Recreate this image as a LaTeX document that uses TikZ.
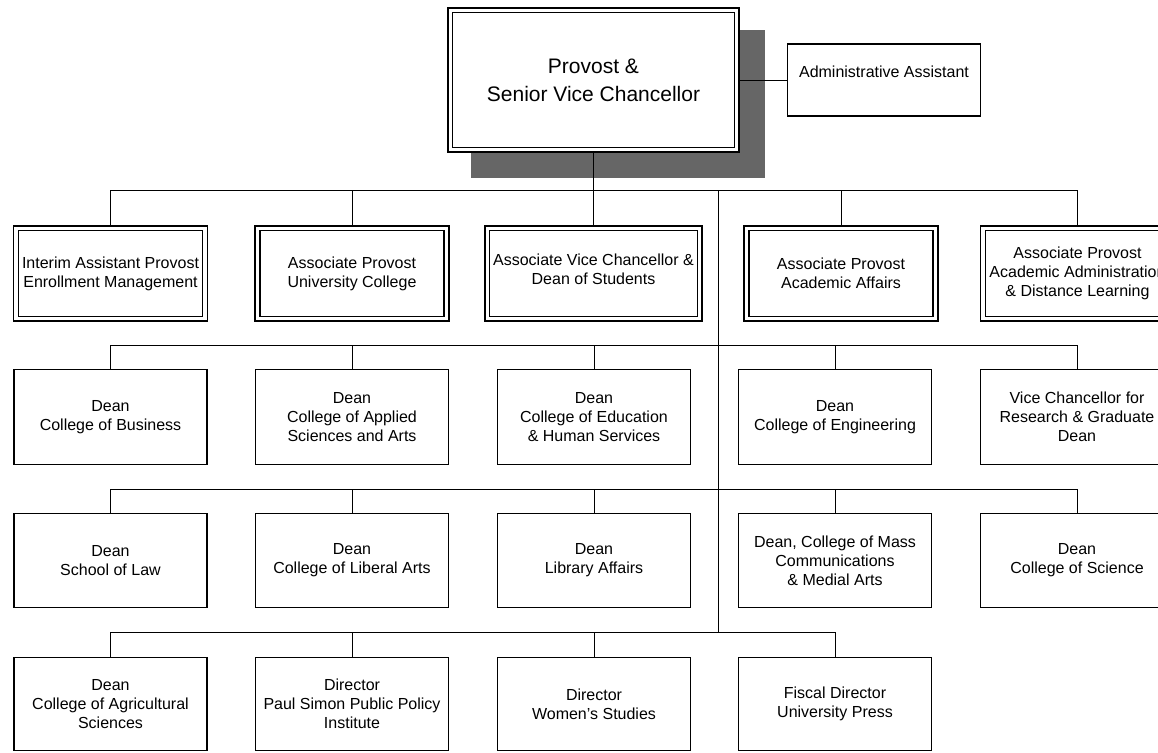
\documentclass[tikz,border=0pt]{standalone}
\usepackage{fontspec}
\setmainfont{Liberation Sans}
\usetikzlibrary{calc,backgrounds}

\begin{document}
\begin{tikzpicture}[x=1pt,y=-1pt,
  link/.style={line width=0.8pt},
  unitbox/.style={draw,line width=1.6pt,fill=white,align=center,inner sep=2pt,
    minimum width=193pt,font=\fontsize{16}{19}\selectfont},
  leadbox/.style={unitbox,double,line width=1.5pt,double distance=3.2pt,
    minimum width=189pt,minimum height=90.5pt}]
\useasboundingbox (0,0) rectangle (1158,752);
\clip (0,0) rectangle (1158,752);

% Provost and assistant
\node[leadbox,minimum width=286.5pt,minimum height=139.5pt,font=\fontsize{21}{28}\selectfont]
  (provost) at (593.5,80) {Provost \&\\Senior Vice Chancellor};
\node[unitbox,minimum height=72pt,text depth=16pt] (admin) at (884,80) {Administrative Assistant};

% Associate provosts
\node[leadbox] (r1a) at (110.5,273.5) {Interim Assistant Provost\\Enrollment Management};
\node[leadbox] (r1b) at (352,273.5) {Associate Provost\\University College};
\node[leadbox,minimum width=212.5pt,text depth=9pt] (r1c) at (593.5,273.5) {Associate Vice Chancellor \&\\Dean of Students};
\node[leadbox] (r1d) at (841,273.5) {Associate Provost\\Academic Affairs};
\node[leadbox] (r1e) at (1077.5,273.5) {Associate Provost\\Academic Administration\\\& Distance Learning};

% Deans, first row
\begin{scope}[every node/.append style={minimum height=95pt}]
\node[unitbox] (r2a) at (110.5,417) {Dean\\College of Business};
\node[unitbox] (r2b) at (352,417) {Dean\\College of Applied\\Sciences and Arts};
\node[unitbox] (r2c) at (594,417) {Dean\\College of Education\\\& Human Services};
\node[unitbox] (r2d) at (835,417) {Dean\\College of Engineering};
\node[unitbox] (r2e) at (1077,417) {Vice Chancellor for\\Research \& Graduate\\Dean};
\end{scope}

% Deans, second row
\begin{scope}[every node/.append style={minimum height=94pt}]
\node[unitbox] (r3a) at (110.5,560.5) {Dean\\School of Law};
\node[unitbox] (r3b) at (352,560.5) {Dean\\College of Liberal Arts};
\node[unitbox] (r3c) at (594,560.5) {Dean\\Library Affairs};
\node[unitbox] (r3d) at (835,560.5) {Dean, College of Mass\\Communications\\\& Medial Arts};
\node[unitbox] (r3e) at (1077,560.5) {Dean\\College of Science};
\end{scope}

% Directors
\begin{scope}[every node/.append style={minimum height=93pt}]
\node[unitbox] (r4a) at (110.5,704) {Dean\\College of Agricultural\\Sciences};
\node[unitbox] (r4b) at (352,704) {Director\\Paul Simon Public Policy\\Institute};
\node[unitbox] (r4c) at (594,704) {Director\\Women's Studies};
\node[unitbox] (r4d) at (835,704) {Fiscal Director\\University Press};
\end{scope}

% Shadow and connectors
\coordinate (bus1) at (718,190);
\coordinate (bus2) at (718,345);
\coordinate (bus3) at (718,489);
\coordinate (bus4) at (718,632);
\begin{scope}[on background layer]
\fill[black!60] ($(provost.north west)+(21,21)$) rectangle ($(provost.south east)+(27,27)$);
\draw[link] (provost.east) -- (admin.west);
\draw[link] (provost.south) -- (provost.south |- bus1);
\draw[link] (bus1) -- (bus4);
\draw[link] (r1a.north) |- (r1e.north |- bus1) -- (r1e.north);
\draw[link] (r1b.north) -- (r1b.north |- bus1);
\draw[link] (r1c.north) -- (r1c.north |- bus1);
\draw[link] (r1d.north) -- (r1d.north |- bus1);
\draw[link] (r2a.north) |- (r2e.north |- bus2) -- (r2e.north);
\draw[link] (r2b.north) -- (r2b.north |- bus2);
\draw[link] (r2c.north) -- (r2c.north |- bus2);
\draw[link] (r2d.north) -- (r2d.north |- bus2);
\draw[link] (r3a.north) |- (r3e.north |- bus3) -- (r3e.north);
\draw[link] (r3b.north) -- (r3b.north |- bus3);
\draw[link] (r3c.north) -- (r3c.north |- bus3);
\draw[link] (r3d.north) -- (r3d.north |- bus3);
\draw[link] (r4a.north) |- (r4d.north |- bus4) -- (r4d.north);
\draw[link] (r4b.north) -- (r4b.north |- bus4);
\draw[link] (r4c.north) -- (r4c.north |- bus4);
\end{scope}
\end{tikzpicture}
\end{document}
